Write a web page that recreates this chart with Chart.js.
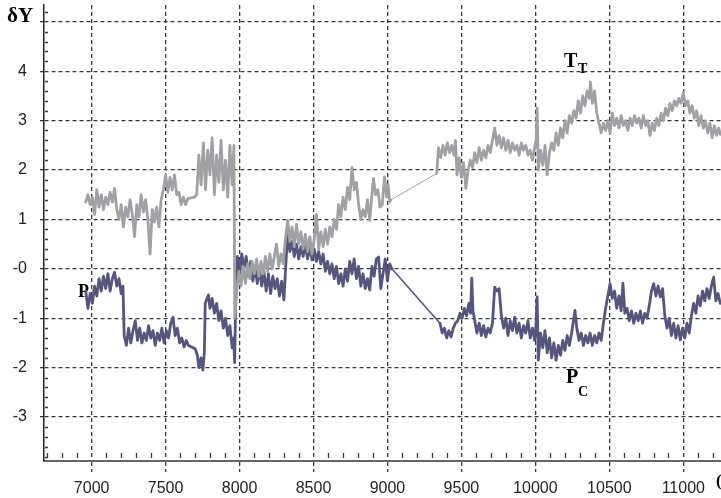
<!DOCTYPE html>
<html><head><meta charset="utf-8">
<script src="https://cdn.jsdelivr.net/npm/chart.js@4.4.0/dist/chart.umd.min.js"></script>
<style>html,body{margin:0;padding:0;background:#fff;overflow:hidden}#wrap{position:relative;width:721px;height:498px}</style>
</head><body><div id="wrap"><canvas id="c" width="721" height="498"></canvas></div>
<script>
// ---- data ----
const xTicks = [7000, 7500, 8000, 8500, 9000, 9500, 10000, 10500, 11000];
const xTickLabels = ['7000','7500','8000','8500','9000','9500','10000','10500','11000'];
const yTicks = [-3, -2, -1, 0, 1, 2, 3, 4, 5];
const yTickLabels = ['-3','-2','-1','-0','1','2','3','4',''];
const yAxisTitle = 'δY';

// T_T series (grey)
const tX = [6960,6975,6990,7005,7020,7035,7050,7065,7080,7095,
7110,7125,7140,7155,7170,7185,7200,7215,7230,7245,
7260,7275,7290,7305,7320,7335,7350,7365,7380,7395,
7410,7425,7440,7455,7470,7485,7500,7515,7530,7545,
7560,7575,7590,7605,7620,7635,7650,7695,
7710,7725,7740,7755,7770,7785,7800,7815,7830,7845,
7860,7875,7890,7905,7920,7935,7950,7962,7968,7980,
7995,8010,8025,8040,8055,8070,8085,8100,8115,8130,
8145,8160,8175,8190,8205,8220,8235,8250,8265,8280,
8295,8310,8325,8340,8355,8370,8385,8400,8415,8430,
8445,8460,8475,8490,8505,8520,8535,8550,8565,8580,
8595,8610,8625,8640,8655,8670,8685,8700,8715,8730,
8745,8760,8775,8790,8805,8820,8835,8850,8865,8880,
8895,8905,8920,8935,8950,8965,8980,8995,9005,9015,9021,
9333,9345,9360,9375,9390,9405,9420,9435,9450,9460,
9470,9485,9500,9515,9530,9545,9560,9575,9590,9605,
9620,9635,9650,9665,9680,9695,9710,9725,9740,9755,
9770,9785,9800,9815,9830,9845,9860,9875,9890,9905,
9920,9935,9950,9965,9980,9995,10005,10012,10020,10035,
10050,10065,10080,10095,10110,10125,10140,10155,10170,10185,
10200,10215,10230,10245,10260,10275,10290,10305,10320,10335,
10350,10365,10372,10385,10400,10415,10430,10445,10460,10475,
10490,10505,10520,10535,10550,10565,10580,10595,10610,10625,
10640,10655,10670,10685,10700,10715,10730,10745,10760,10775,
10790,10805,10820,10835,10850,10865,10880,10895,10910,10925,
10940,10955,10970,10985,11000,11015,11030,11045,11060,11075,
11090,11105,11120,11135,11150,11165,11180,11195,11210,11225,
11240,11250];
const tY = [1.35,1.5,1.3,1.45,1.1,1.6,1.25,1.5,1.2,1.45,
1.3,1.55,1.35,1.63,1.2,1.0,1.3,0.85,1.25,1.05,
1.4,1.1,0.65,1.3,1.05,1.5,1.15,1.4,1.0,0.3,
1.2,0.95,1.25,0.85,1.4,1.6,1.9,1.55,1.85,1.6,
1.9,1.5,1.55,1.3,1.45,1.3,1.42,1.45,
1.5,2.3,1.7,2.55,1.6,2.4,1.9,2.65,1.5,2.3,
1.75,2.6,1.6,2.2,1.45,2.5,1.7,2.5,-1.0,-0.5,
-0.05,-0.35,0.05,-0.3,0.1,-0.2,0.15,-0.1,0.2,-0.15,
0.15,-0.1,0.25,-0.05,0.3,0.0,0.25,0.5,0.05,0.3,
0.1,0.6,0.98,0.55,0.85,0.45,0.9,0.5,0.75,0.4,
0.7,0.35,0.65,0.3,0.6,1.1,0.4,0.75,0.45,0.8,
0.5,0.85,0.65,1.0,0.8,1.3,1.05,1.45,1.2,1.65,
1.4,2.05,1.6,1.75,1.3,1.0,1.2,1.05,1.4,0.98,
1.5,1.83,1.5,1.6,1.25,1.3,1.86,1.45,1.7,1.35,1.39,
1.93,2.45,2.25,2.5,2.3,2.55,2.35,2.5,2.3,2.6,
1.9,2.25,1.85,2.15,1.63,2.0,2.2,2.05,2.35,2.15,
2.45,2.2,2.4,2.25,2.5,2.35,2.6,2.85,2.5,2.7,
2.45,2.65,2.4,2.6,2.35,2.55,2.4,2.5,2.3,2.55,
2.4,2.5,2.3,2.4,2.2,2.45,2.6,3.25,2.0,2.4,
2.1,2.5,1.9,2.35,2.55,2.4,2.75,2.5,2.85,2.65,
3.0,2.75,3.1,2.95,3.2,3.05,3.4,3.15,3.5,3.3,
3.6,3.45,3.78,3.35,3.6,3.15,2.95,2.75,2.95,2.8,
3.0,2.75,3.15,2.9,3.05,2.85,3.1,2.9,3.0,2.8,
3.05,2.9,3.1,2.95,3.05,2.85,3.1,2.9,3.0,2.7,
2.95,2.8,3.05,2.9,3.15,3.0,3.25,3.1,3.35,3.2,
3.4,3.3,3.45,3.35,3.57,3.3,3.4,3.15,3.3,3.05,
3.2,2.9,3.1,2.85,3.0,2.75,2.95,2.65,2.9,2.7,
2.85,2.72];

// P_C series (dark)
const pX = [6960,6975,6990,7005,7020,7035,7050,7065,7080,7095,
7110,7125,7140,7155,7170,7185,7200,7212,7220,7235,
7250,7265,7280,7295,7310,7325,7340,7355,7370,7385,
7400,7415,7430,7445,7460,7475,7490,7505,7520,7535,
7550,7565,7580,7595,7610,7625,7640,7655,7700,7715,
7725,7740,7752,7762,7768,7780,7790,7800,7815,7830,
7845,7860,7875,7890,7905,7920,7935,7950,7960,7967,
7975,7985,8000,8015,8030,8045,8060,8075,8090,8105,
8120,8135,8150,8165,8180,8195,8210,8225,8240,8255,
8270,8285,8300,8315,8328,8340,8355,8370,8385,8400,
8415,8430,8445,8460,8475,8490,8505,8520,8535,8550,
8565,8580,8595,8610,8625,8640,8655,8670,8685,8700,
8715,8730,8745,8760,8775,8790,8805,8820,8835,8850,
8865,8880,8895,8910,8925,8940,8955,8970,8985,9000,
9015,9030,9355,9370,9385,9400,9415,9430,9445,9460,
9475,9490,9505,9520,9535,9550,9562,9570,9578,9590,
9605,9620,9635,9650,9665,9680,9695,9710,9725,9740,
9755,9770,9785,9800,9815,9830,9845,9860,9875,9890,
9905,9920,9935,9950,9965,9980,9995,10005,10012,10020,
10035,10050,10065,10080,10095,10110,10125,10140,10155,10170,
10185,10200,10215,10230,10245,10260,10268,10280,10295,10310,
10325,10340,10355,10370,10385,10400,10415,10430,10445,10460,
10475,10490,10505,10520,10535,10550,10565,10580,10592,10605,
10620,10635,10650,10665,10680,10695,10710,10725,10740,10755,
10770,10785,10800,10815,10830,10845,10860,10875,10890,10905,
10920,10935,10950,10965,10980,10995,11010,11025,11040,11055,
11070,11085,11100,11115,11130,11145,11160,11175,11190,11205,
11220,11235,11250];
const pY = [-0.45,-0.8,-0.5,-0.7,-0.35,-0.55,-0.2,-0.45,-0.15,-0.4,
-0.1,-0.45,-0.2,-0.07,-0.35,-0.2,-0.5,-0.35,-1.35,-1.55,
-1.2,-1.5,-1.25,-1.05,-1.45,-1.2,-1.5,-1.3,-1.45,-1.15,
-1.4,-1.25,-1.55,-1.3,-1.45,-1.2,-1.5,-1.25,-1.4,-1.1,
-0.98,-1.35,-1.2,-1.5,-1.4,-1.58,-1.45,-1.55,-1.62,-1.75,
-2.0,-1.8,-2.05,-1.7,-0.7,-0.6,-0.53,-0.8,-0.6,-0.9,
-0.7,-1.05,-0.85,-1.2,-1.0,-1.35,-1.15,-1.6,-1.4,-1.9,
-0.4,0.25,-0.1,0.3,0.0,0.25,-0.15,0.15,-0.25,0.05,
-0.3,0.0,-0.35,-0.05,-0.45,-0.1,-0.5,-0.15,-0.4,-0.2,
-0.55,-0.25,-0.63,0.2,0.84,0.35,0.55,0.25,0.5,0.2,
0.45,0.25,0.5,0.2,0.45,0.18,0.4,0.15,0.35,0.1,
0.3,-0.05,0.15,-0.1,0.1,-0.2,0.05,-0.3,-0.1,-0.35,
0.0,-0.25,0.15,-0.1,0.2,-0.2,0.05,-0.35,-0.1,-0.4,
-0.2,-0.43,0.05,-0.15,0.2,0.24,-0.4,-0.1,0.2,-0.25,
0.1,0.0,-1.1,-1.3,-1.2,-1.4,-1.25,-1.38,-1.2,-1.1,
-1.05,-0.9,-1.0,-0.8,-0.95,-0.7,-0.9,-0.19,-0.85,-1.05,
-1.3,-1.1,-1.35,-1.15,-1.38,-1.2,-1.3,-1.1,-0.37,-0.45,
-0.4,-0.95,-1.2,-1.0,-1.35,-1.05,-1.25,-0.98,-1.3,-1.1,
-1.4,-1.15,-1.3,-1.05,-1.4,-1.2,-1.45,-1.1,-0.57,-1.85,
-1.3,-1.6,-1.25,-1.7,-1.4,-1.8,-1.5,-1.85,-1.55,-1.75,
-1.45,-1.65,-1.35,-1.55,-1.3,-1.0,-0.84,-1.2,-1.45,-1.3,
-1.55,-1.35,-1.5,-1.3,-1.55,-1.35,-1.5,-1.3,-1.45,-1.1,
-0.8,-0.55,-0.3,-0.6,-0.45,-0.8,-0.55,-0.85,-0.29,-0.9,
-0.8,-1.05,-0.85,-1.1,-0.9,-1.05,-0.85,-1.1,-0.9,-1.0,
-0.75,-0.45,-0.3,-0.55,-0.35,-0.57,-0.4,-0.95,-1.2,-1.0,
-1.35,-1.1,-1.4,-1.15,-1.44,-1.2,-1.4,-1.1,-1.3,-0.95,
-0.7,-0.9,-0.55,-0.75,-0.45,-0.65,-0.4,-0.6,-0.35,-0.17,
-0.65,-0.5,-0.7];

// ---- styles ----
const GREY = '#a1a1a5';
const DARK = '#56567c';
const GRID = '#363636';
const SERIF = '"Liberation Serif", "Times New Roman", serif';
const SANS = '"Liberation Sans", Arial, sans-serif';

const annot = {
  id: 'annot',
  beforeDatasetsDraw(chart) {
    const c = chart.ctx;
    c.save();
    c.fillStyle = '#000';
    c.font = 'bold 18px ' + SERIF;
    c.textBaseline = 'alphabetic';
    c.fillText('P', 78, 297);
    c.restore();
  },
  afterDraw(chart) {
    const c = chart.ctx;
    const xs = chart.scales.x, ys = chart.scales.y;
    const area = chart.chartArea;
    c.save();
    c.strokeStyle = GRID; c.lineWidth = 1.3;
    c.beginPath();
    for (let v = 6700; v <= xs.max; v += 100) {
      if (v % 500 === 0) continue;
      const px = Math.round(xs.getPixelForValue(v)) + 0.5;
      c.moveTo(px, area.bottom - 8); c.lineTo(px, area.bottom - 3);
    }
    for (let k = Math.ceil(ys.min * 5); k <= Math.floor(ys.max * 5); k++) {
      if (k % 5 === 0) continue;
      const py = Math.round(ys.getPixelForValue(k / 5)) + 0.5;
      c.moveTo(area.left + 1, py); c.lineTo(area.left + 4, py);
    }
    c.stroke();
    c.fillStyle = '#000';
    c.textBaseline = 'alphabetic';
    c.font = 'bold 21px ' + SERIF;
    c.fillText(yAxisTitle, 7, 22);
    c.font = 'bold 20px ' + SERIF;
    c.fillText('T', 564, 67);
    c.fillText('P', 566, 383);
    c.font = 'bold 14px ' + SERIF;
    c.fillText('T', 578, 73);
    c.fillText('C', 578, 396);
    c.font = 'bold 17px ' + SERIF;
    c.fillText('(', 716, 486);
    c.restore();
  }
};

const common = { pointRadius: 0, tension: 0, fill: false, borderWidth: 2.8, borderJoinStyle: 'round', borderCapStyle: 'round' };

new Chart(document.getElementById('c'), {
  type: 'line',
  data: {
    datasets: [
      Object.assign({ label: 'T_T', data: tX.map((x, i) => ({x, y: tY[i]})), borderColor: GREY, order: 0,
        segment: { borderWidth: ctx => (ctx.p1.parsed.x - ctx.p0.parsed.x > 150 ? 1 : undefined) } }, common),
      Object.assign({ label: 'P_C', data: pX.map((x, i) => ({x, y: pY[i]})), borderColor: DARK, order: 1,
        segment: { borderWidth: ctx => (ctx.p1.parsed.x - ctx.p0.parsed.x > 150 ? 1.6 : undefined) } }, common)
    ]
  },
  options: {
    responsive: false, animation: false, devicePixelRatio: 1,
    layout: { padding: { top: 5, right: 0, bottom: 0, left: 0 } },
    plugins: { legend: { display: false }, tooltip: { enabled: false } },
    scales: {
      x: {
        type: 'linear', min: 6678, max: 11255,
        afterBuildTicks: s => { s.ticks = xTicks.map(v => ({ value: v })); },
        afterFit: s => { s.height = 37; s.paddingLeft = 0; s.paddingRight = 0; },
        ticks: { callback: v => xTickLabels[xTicks.indexOf(v)], font: { family: SANS, size: 16 }, color: '#222', padding: 7, maxRotation: 0, autoSkip: false },
        grid: { color: GRID, lineWidth: 1.3, tickLength: 11, tickColor: GRID, tickBorderDash: [4, 3] },
        border: { display: true, color: '#666', width: 2, dash: [4, 3] }
      },
      y: {
        min: -3.89, max: 5.34,
        afterBuildTicks: s => { s.ticks = yTicks.map(v => ({ value: v })); },
        afterFit: s => { s.width = 44; s.paddingTop = 0; s.paddingBottom = 0; },
        ticks: { callback: v => yTickLabels[yTicks.indexOf(v)], font: { family: SANS, size: 16 }, color: '#222', padding: 13, autoSkip: false },
        grid: { color: GRID, lineWidth: 1.3, tickLength: 4, tickColor: GRID },
        border: { display: true, color: '#222', width: 1.5, dash: [4, 3] }
      }
    }
  },
  plugins: [annot]
});
</script>
</body></html>
